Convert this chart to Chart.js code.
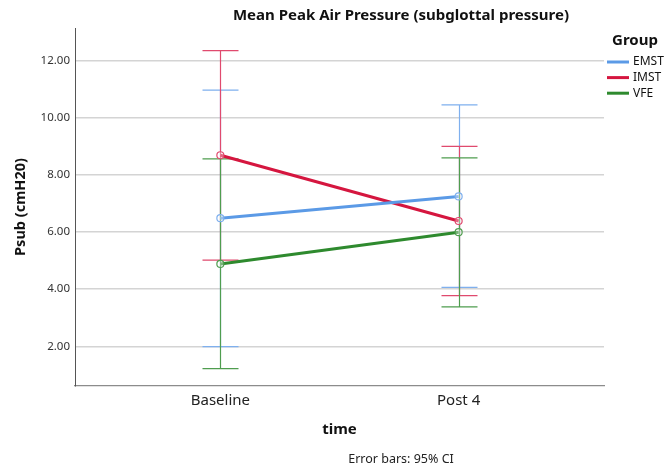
<!DOCTYPE html>
<html>
<head>
<meta charset="utf-8">
<script src="https://cdn.jsdelivr.net/npm/chart.js@4.4.1/dist/chart.umd.min.js"></script>
<style>
  body { margin: 0; background: #fff; }
  #wrap { width: 665px; height: 469px; }
</style>
</head>
<body>
<div id="wrap"><canvas id="psubChart" width="665" height="469"></canvas></div>
<script>
// time points on the x axis
const timeLabels = ['Baseline', 'Post 4'];
const groupNames = ['EMST', 'IMST', 'VFE'];

// group means and 95% CI bounds, cmH2O
const emstMean = [6.48, 7.24];
const emstLow = [1.99, 4.06];
const emstHigh = [10.96, 10.44];

const imstMean = [8.68, 6.38];
const imstLow = [5.01, 3.77];
const imstHigh = [12.34, 8.99];

const vfeMean = [4.88, 5.99];
const vfeLow = [1.22, 3.38];
const vfeHigh = [8.55, 8.59];

const yTicks = [2, 4, 6, 8, 10, 12];

const FONT = "'Noto Sans', 'Open Sans', sans-serif";

const lineColors = ['#5b9ae6', '#d5163f', '#2e8a2e'];
const barColors = ['#7fb0ee', '#e04a6e', '#4f9d4f'];

function toPoints(arr) {
    return arr.map(function (v, i) { return { x: i, y: v }; });
}

const means = [emstMean, imstMean, vfeMean];
const lows = [emstLow, imstLow, vfeLow];
const highs = [emstHigh, imstHigh, vfeHigh];

// vertical CI whiskers with caps, drawn under the mean lines
const errorBars = {
    id: 'errorBars',
    beforeDatasetsDraw(chart) {
        const ctx = chart.ctx;
        const xs = chart.scales.x;
        const ys = chart.scales.y;
        ctx.save();
        ctx.lineWidth = 1.2;
        for (let g = 0; g < groupNames.length; g++) {
            ctx.strokeStyle = barColors[g];
            for (let i = 0; i < timeLabels.length; i++) {
                const px = Math.round(xs.getPixelForValue(i)) + 0.5;
                const lo = ys.getPixelForValue(lows[g][i]);
                const hi = ys.getPixelForValue(highs[g][i]);
                ctx.beginPath();
                ctx.moveTo(px, lo);
                ctx.lineTo(px, hi);
                ctx.moveTo(px - 18, lo);
                ctx.lineTo(px + 18, lo);
                ctx.moveTo(px - 18, hi);
                ctx.lineTo(px + 18, hi);
                ctx.stroke();
            }
        }
        ctx.restore();
    }
};

// title, footnote and group legend
const decorations = {
    id: 'decorations',
    afterDraw(chart) {
        const ctx = chart.ctx;
        ctx.save();
        ctx.fillStyle = '#111';
        ctx.textAlign = 'center';
        ctx.textBaseline = 'middle';
        ctx.font = 'bold 15px ' + FONT;
        ctx.fillText('Mean Peak Air Pressure (subglottal pressure)', 401, 16);

        ctx.font = '12.5px ' + FONT;
        ctx.fillStyle = '#222';
        ctx.fillText('Error bars: 95% CI', 401, 459);

        ctx.font = 'bold 15px ' + FONT;
        ctx.fillStyle = '#111';
        ctx.fillText('Group', 635, 41);

        ctx.textAlign = 'left';
        ctx.font = '12px ' + FONT;
        for (let g = 0; g < groupNames.length; g++) {
            const y = 62 + g * 15.6;
            ctx.strokeStyle = lineColors[g];
            ctx.lineWidth = 3;
            ctx.beginPath();
            ctx.moveTo(607, y);
            ctx.lineTo(629, y);
            ctx.stroke();
            ctx.fillStyle = '#111';
            ctx.fillText(groupNames[g], 633, y);
        }
        ctx.restore();
    }
};

const datasets = groupNames.map(function (name, g) {
    return {
        label: name,
        data: toPoints(means[g]),
        borderColor: lineColors[g],
        borderWidth: 3,
        pointRadius: 3.5,
        pointBorderWidth: 1.2,
        pointBorderColor: barColors[g],
        pointBackgroundColor: 'rgba(255,255,255,0.35)',
        tension: 0
    };
});

new Chart(document.getElementById('psubChart'), {
    type: 'line',
    data: { datasets: datasets },
    options: {
        responsive: false,
        animation: false,
        events: [],
        layout: { padding: { top: 28, right: 61, left: 0, bottom: 0 } },
        plugins: {
            legend: { display: false },
            title: { display: false },
            tooltip: { enabled: false }
        },
        scales: {
            x: {
                type: 'linear',
                min: -0.61,
                max: 1.61,
                afterFit: function (scale) { scale.height = 83; },
                afterBuildTicks: function (scale) {
                    scale.ticks = timeLabels.map(function (_, i) { return { value: i }; });
                },
                ticks: {
                    padding: 6,
                    color: '#222',
                    font: { family: FONT, size: 15 },
                    callback: function (value) { return timeLabels[value]; }
                },
                grid: { display: false, drawTicks: false },
                border: { color: '#8c8c8c', width: 1.2 },
                title: {
                    display: true,
                    text: 'time',
                    color: '#111',
                    font: { family: FONT, size: 15, weight: 'bold' },
                    padding: { top: 0, bottom: 30 }
                }
            },
            y: {
                min: 0.61,
                max: 13.13,
                afterFit: function (scale) { scale.width = 75; },
                afterBuildTicks: function (scale) {
                    scale.ticks = yTicks.map(function (v) { return { value: v }; });
                },
                ticks: {
                    padding: 5,
                    color: '#333',
                    font: { family: FONT, size: 11.5 },
                    callback: function (value) { return value.toFixed(2); }
                },
                grid: { color: '#d4d4d4', lineWidth: 1.5, drawTicks: false },
                border: { color: '#555', width: 1 },
                title: {
                    display: true,
                    text: 'Psub (cmH20)',
                    color: '#111',
                    font: { family: FONT, size: 14.5, weight: 'bold' },
                    padding: { top: 12, bottom: 0 }
                }
            }
        }
    },
    plugins: [errorBars, decorations]
});
</script>
</body>
</html>
